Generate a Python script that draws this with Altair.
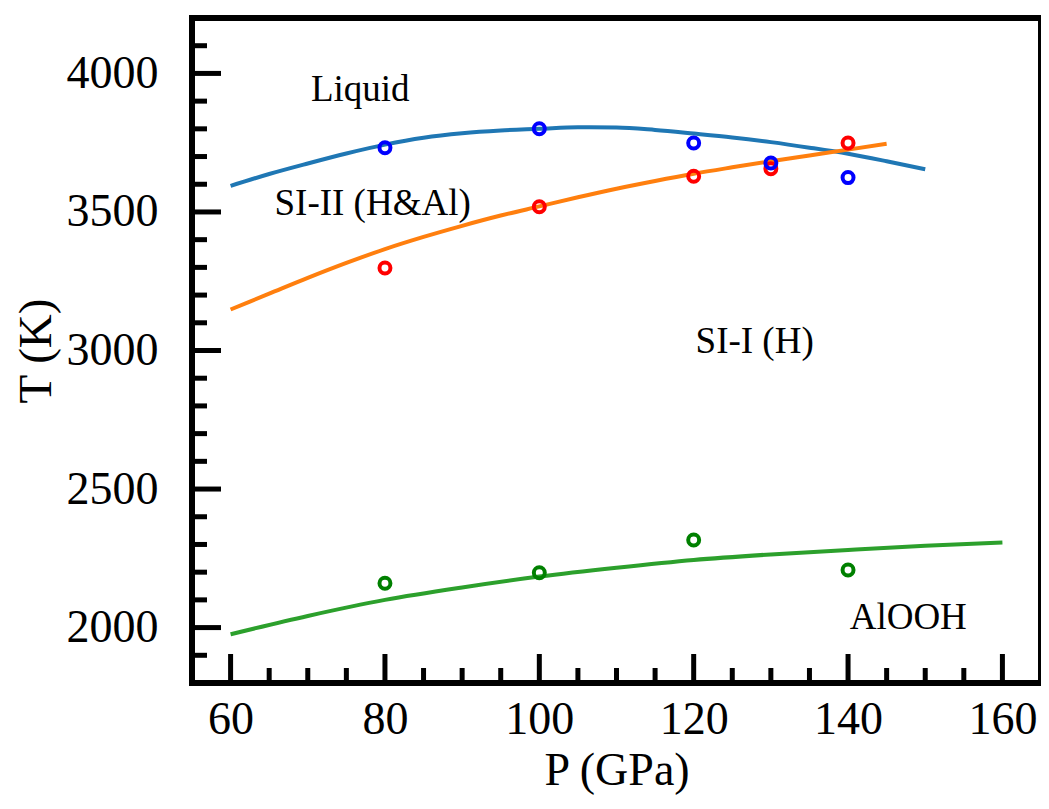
import altair as alt
import pandas as pd

# ---- fitted curves ----
liq_line_P = [60, 65, 70, 75, 80, 85, 90, 95, 100, 105, 110, 115, 120, 125, 130, 135, 140, 145, 150]
liq_line_T = [3594, 3637, 3675, 3711, 3743, 3768, 3784, 3794, 3800, 3806, 3805, 3796, 3783, 3769, 3752, 3732, 3710, 3683, 3654]

si2_line_P = [60, 65, 70, 75, 80, 85, 90, 95, 100, 105, 110, 115, 120, 125, 130, 135, 140, 145]
si2_line_T = [3148, 3205, 3262, 3316, 3366, 3410, 3450, 3487, 3520, 3553, 3584, 3612, 3638, 3661, 3683, 3704, 3725, 3746]

al_line_P = [60, 70, 80, 90, 100, 110, 120, 130, 140, 150, 160]
al_line_T = [1976, 2042, 2100, 2145, 2184, 2216, 2244, 2264, 2280, 2295, 2307]

# ---- data points ----
liq_pts_P = [80, 100, 120, 130, 140]
liq_pts_T = [3732, 3800, 3749, 3677, 3624]
si2_pts_P = [80, 100, 120, 130, 140]
si2_pts_T = [3298, 3519, 3629, 3656, 3749]
al_pts_P = [80, 100, 120, 140]
al_pts_T = [2160, 2198, 2316, 2208]

# ---- ticks ----
x_major = [60, 80, 100, 120, 140, 160]
x_minor = [65, 70, 75, 85, 90, 95, 105, 110, 115, 125, 130, 135, 145, 150, 155]
y_major = [2000, 2500, 3000, 3500, 4000]
y_minor = [1900, 2100, 2200, 2300, 2400, 2600, 2700, 2800, 2900, 3100, 3200, 3300, 3400,
           3600, 3700, 3800, 3900, 4100]

# ---- region labels ----
lab_text = ["Liquid", "SI-II (H&Al)", "SI-I (H)", "AlOOH"]
lab_P = [76.8, 78.4, 127.9, 147.8]
lab_T = [3939, 3528, 3030, 2034]

FONT = "Liberation Serif"
W, H = 849, 665

lines = pd.concat([
    pd.DataFrame({"s": "liq", "P": liq_line_P, "T": liq_line_T}),
    pd.DataFrame({"s": "si2", "P": si2_line_P, "T": si2_line_T}),
    pd.DataFrame({"s": "al", "P": al_line_P, "T": al_line_T}),
])
pts = pd.concat([
    pd.DataFrame({"s": "si2", "P": si2_pts_P, "T": si2_pts_T, "o": 0}),
    pd.DataFrame({"s": "liq", "P": liq_pts_P, "T": liq_pts_T, "o": 1}),
    pd.DataFrame({"s": "al", "P": al_pts_P, "T": al_pts_T, "o": 2}),
])
labs = pd.DataFrame({"t": lab_text, "P": lab_P, "T": lab_T})

xs = alt.Scale(domain=[55, 165], nice=False, zero=False)
ys = alt.Scale(domain=[1800, 4200], nice=False, zero=False)

xaxis = alt.Axis(values=x_major, format="d", ticks=False, tickSize=0, domain=False, grid=False,
                 labelFont=FONT, labelFontSize=46, labelColor="black", labelPadding=14,
                 title="P (GPa)", titleFont=FONT, titleFontSize=46, titleFontWeight="normal",
                 titleColor="black", titleX=W / 2, titleY=101, titleBaseline="alphabetic",
                 titleAlign="center")
yaxis = alt.Axis(values=y_major, format="d", ticks=False, tickSize=0, domain=False, grid=False,
                 labelFont=FONT, labelFontSize=46, labelColor="black", labelPadding=34,
                 title="T (K)", titleFont=FONT, titleFontSize=47, titleFontWeight="normal",
                 titleColor="black", titleX=-156, titleY=H / 2, titleBaseline="middle",
                 titleAlign="center", titleAngle=-90)

color_line = alt.Scale(domain=["liq", "si2", "al"], range=["#1f77b4", "#ff7f0e", "#2ca02c"])
color_pts = alt.Scale(domain=["liq", "si2", "al"], range=["#0000ff", "#ff0000", "#008000"])

line_layer = alt.Chart(lines).mark_line(strokeWidth=4, interpolate="monotone").encode(
    x=alt.X("P:Q", scale=xs, axis=xaxis),
    y=alt.Y("T:Q", scale=ys, axis=yaxis),
    color=alt.Color("s:N", scale=color_line, legend=None),
    detail="s:N",
)

pt_layer = alt.Chart(pts).mark_point(shape="circle", filled=False, size=120, strokeWidth=4, opacity=1).encode(
    x=alt.X("P:Q", scale=xs),
    y=alt.Y("T:Q", scale=ys),
    stroke=alt.Stroke("s:N", scale=color_pts, legend=None),
    order="o:Q",
)

text_layer = alt.Chart(labs).mark_text(font=FONT, fontSize=37, color="black",
                                       align="center", baseline="middle").encode(
    x=alt.X("P:Q", scale=xs), y=alt.Y("T:Q", scale=ys), text="t:N")

xmaj = alt.Chart(pd.DataFrame({"P": x_major})).mark_rule(color="black", strokeWidth=5).encode(
    x=alt.X("P:Q", scale=xs), y=alt.value(H), y2=alt.value(H - 29))
xmin = alt.Chart(pd.DataFrame({"P": x_minor})).mark_rule(color="black", strokeWidth=5).encode(
    x=alt.X("P:Q", scale=xs), y=alt.value(H), y2=alt.value(H - 15))
ymaj = alt.Chart(pd.DataFrame({"T": y_major})).mark_rule(color="black", strokeWidth=5).encode(
    y=alt.Y("T:Q", scale=ys), x=alt.value(0), x2=alt.value(29))
ymin = alt.Chart(pd.DataFrame({"T": y_minor})).mark_rule(color="black", strokeWidth=5).encode(
    y=alt.Y("T:Q", scale=ys), x=alt.value(0), x2=alt.value(15))

chart = alt.layer(line_layer, text_layer, pt_layer, xmaj, xmin, ymaj, ymin).properties(
    width=W, height=H,
    autosize=alt.AutoSizeParams(type="none"),
    padding={"left": 184, "top": 10, "right": 0, "bottom": 112},
    background="white",
).configure_view(stroke="black", strokeWidth=6)

chart.save("out.html", embed_options={"renderer": "svg", "actions": False})
